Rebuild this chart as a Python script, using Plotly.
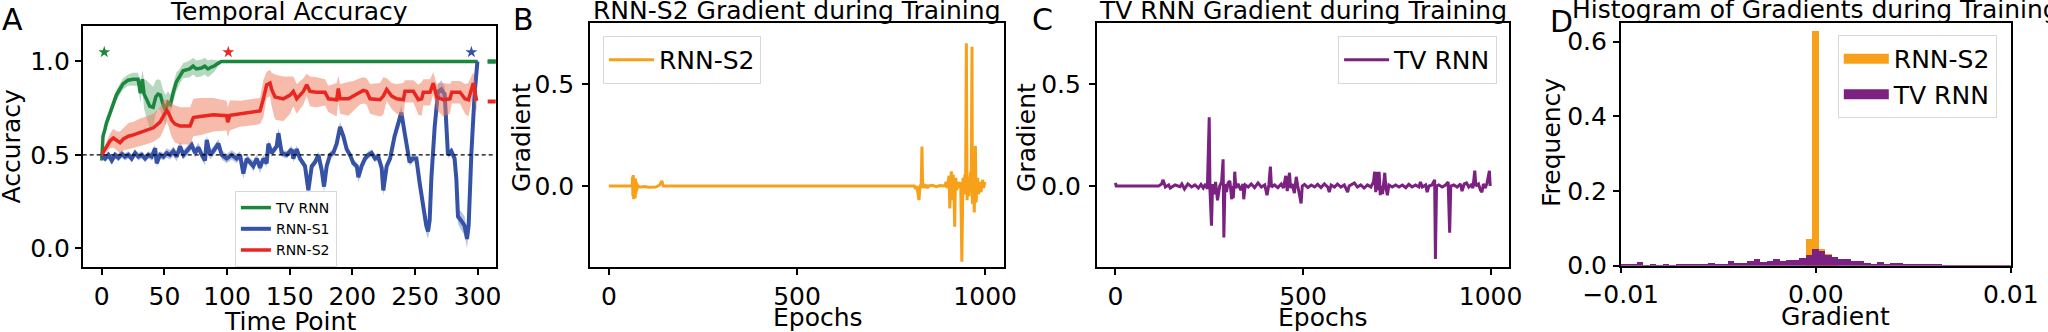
import numpy as np
import plotly.graph_objects as go

FONT = "DejaVu Sans"

# ---------------- Panel A : temporal accuracy ----------------
t_tv = [0, 1, 2.7, 3.7, 6.4, 9, 11.7, 14.3, 17, 21,
        25, 29, 30.8, 32.4, 33.8, 35.6, 38.3, 41, 43.1, 44.9,
        46.8, 48.9, 50.8, 52.9, 54.8, 56.9, 59.5, 62.2, 64.9, 70.2,
        72.9, 75.5, 79.5, 82.2, 84.8, 87.5, 90.1, 92.8, 95.5, 100,
        110, 300]
acc_tv = [0.47, 0.6, 0.64, 0.67, 0.72, 0.77, 0.82, 0.85, 0.88, 0.9,
          0.905, 0.905, 0.83, 0.905, 0.825, 0.8, 0.76, 0.755, 0.81, 0.825,
          0.82, 0.77, 0.74, 0.78, 0.77, 0.83, 0.89, 0.92, 0.95, 0.96,
          0.975, 0.96, 0.965, 0.975, 0.96, 0.97, 0.977, 0.99, 1.0, 1.0,
          1.0, 1.0]
err_tv = [0.03, 0.03, 0.03, 0.03, 0.03, 0.03, 0.03, 0.03, 0.03, 0.03,
          0.035, 0.035, 0.05, 0.05, 0.08, 0.1, 0.12, 0.11, 0.09, 0.08,
          0.08, 0.08, 0.08, 0.06, 0.05, 0.05, 0.05, 0.04, 0.04, 0.045,
          0.045, 0.045, 0.045, 0.045, 0.045, 0.04, 0.03, 0.015, 0.005, 0.003,
          0.002, 0.002]

t_s1 = [0, 2.7, 5.3, 8, 10.6, 13.3, 16, 18.6, 21.3, 23.9,
        26.6, 29.3, 31.9, 34.6, 37.2, 39.9, 42.6, 43.9, 46.5, 49.2,
        51.9, 54.5, 57.2, 59.8, 62.5, 65.2, 67.8, 71.8, 74.5, 77.1,
        79.8, 82.4, 83.8, 86.4, 89.1, 93.1, 95.7, 99.7, 103.7, 107.7,
        110.4, 113, 115.7, 118.4, 121, 123.7, 126.3, 129, 131.6, 133,
        135.6, 139.6, 141, 143.6, 147.6, 151.6, 152.9, 155.6, 158.2, 162.2,
        164.9, 167.6, 170.2, 172.9, 175.5, 177.4, 179.5, 182.2, 184.8, 187.5,
        190.2, 192.8, 195.5, 198.1, 200.8, 203.5, 204.8, 207.4, 210.1, 212.8,
        215.4, 218.1, 220.7, 223.4, 224.7, 227.4, 230.1, 233.7, 237.7, 239.1,
        241.7, 244.4, 245.7, 248, 251.1, 253.7, 256.4, 259, 260.4, 261.7,
        263.1, 265.7, 268.4, 271, 273.7, 275, 276.3, 279, 281.6, 283,
        284.3, 287, 289.6, 291.5, 292.8, 295, 297.6, 299.8]
acc_s1 = [0.5, 0.48, 0.5, 0.47, 0.5, 0.485, 0.505, 0.49, 0.5, 0.48,
          0.51, 0.49, 0.5, 0.48, 0.5, 0.49, 0.535, 0.455, 0.5, 0.49,
          0.51, 0.5, 0.52, 0.49, 0.545, 0.5, 0.52, 0.553, 0.51, 0.54,
          0.5, 0.47, 0.58, 0.5, 0.52, 0.56, 0.5, 0.48, 0.5, 0.48,
          0.5, 0.4, 0.48, 0.46, 0.44, 0.48, 0.43, 0.48, 0.455, 0.56,
          0.51, 0.545, 0.616, 0.51, 0.5, 0.53, 0.48, 0.53, 0.48, 0.44,
          0.31, 0.44, 0.46, 0.5, 0.42, 0.33, 0.44, 0.5, 0.51, 0.56,
          0.65, 0.6, 0.53, 0.5, 0.455, 0.44, 0.38, 0.44, 0.48, 0.5,
          0.51, 0.48, 0.49, 0.43, 0.31, 0.44, 0.48, 0.6, 0.69, 0.727,
          0.62, 0.51, 0.46, 0.48, 0.48, 0.35, 0.23, 0.12, 0.09, 0.15,
          0.38, 0.65, 0.84, 0.85, 0.825, 0.65, 0.5, 0.52, 0.48, 0.37,
          0.17, 0.146, 0.12, 0.05, 0.12, 0.51, 0.83, 1.0]
err_s1 = [0.01, 0.02, 0.02, 0.02, 0.02, 0.02, 0.02, 0.02, 0.02, 0.02,
          0.02, 0.02, 0.02, 0.02, 0.02, 0.02, 0.02, 0.02, 0.02, 0.02,
          0.025, 0.025, 0.025, 0.025, 0.025, 0.025, 0.025, 0.025, 0.025, 0.025,
          0.025, 0.025, 0.025, 0.025, 0.025, 0.025, 0.025, 0.025, 0.025, 0.025,
          0.02, 0.03, 0.02, 0.02, 0.03, 0.02, 0.03, 0.02, 0.02, 0.02,
          0.02, 0.02, 0.03, 0.02, 0.02, 0.02, 0.02, 0.02, 0.02, 0.02,
          0.03, 0.02, 0.02, 0.02, 0.02, 0.03, 0.02, 0.02, 0.02, 0.02,
          0.03, 0.02, 0.02, 0.02, 0.02, 0.02, 0.03, 0.02, 0.02, 0.02,
          0.02, 0.02, 0.02, 0.02, 0.03, 0.02, 0.02, 0.03, 0.04, 0.04,
          0.04, 0.02, 0.02, 0.02, 0.02, 0.03, 0.04, 0.04, 0.04, 0.04,
          0.03, 0.03, 0.04, 0.05, 0.04, 0.03, 0.02, 0.02, 0.02, 0.03,
          0.04, 0.05, 0.05, 0.05, 0.04, 0.03, 0.03, 0.01]

t_s2 = [0, 4, 6.6, 9.3, 12, 14.6, 17.3, 21.3, 25.3, 30.6,
        35.9, 41.2, 46.5, 49.2, 51.9, 53.2, 55.9, 58.5, 62.5, 70.5,
        73.1, 78.5, 89.1, 99.7, 100.5, 102.4, 110.4, 121, 126.3, 129,
        131.6, 134.3, 135.6, 138.3, 144.9, 150.3, 152.9, 155.6, 160.9, 163.6,
        166.2, 171.5, 178.2, 180.9, 187.5, 188.8, 190.2, 196.8, 200.8, 206.1,
        208.8, 211.4, 214.1, 222.1, 224.7, 227.4, 231.4, 235.4, 240.7, 242,
        248.7, 252.7, 255.3, 256.6, 262, 264.6, 267.3, 272.6, 277.9, 279.3,
        285.9, 289.9, 292.6, 296.5, 299.2]
acc_s2 = [0.5, 0.545, 0.575, 0.59, 0.575, 0.565, 0.585, 0.6, 0.607, 0.62,
          0.632, 0.645, 0.675, 0.71, 0.738, 0.725, 0.685, 0.665, 0.655, 0.655,
          0.7, 0.705, 0.715, 0.71, 0.675, 0.712, 0.72, 0.728, 0.735, 0.8,
          0.875, 0.884, 0.85, 0.81, 0.8, 0.82, 0.84, 0.8, 0.84, 0.875,
          0.84, 0.835, 0.835, 0.8, 0.795, 0.855, 0.8, 0.8, 0.815, 0.84,
          0.845, 0.84, 0.8, 0.795, 0.815, 0.85, 0.815, 0.8, 0.795, 0.84,
          0.84, 0.795, 0.8, 0.835, 0.835, 0.884, 0.81, 0.795, 0.8, 0.835,
          0.835, 0.8, 0.795, 0.884, 0.79]
err_s2 = [0.01, 0.03, 0.04, 0.05, 0.05, 0.06, 0.06, 0.07, 0.07, 0.075,
          0.075, 0.075, 0.08, 0.08, 0.06, 0.07, 0.09, 0.1, 0.1, 0.1,
          0.1, 0.1, 0.09, 0.08, 0.08, 0.08, 0.07, 0.07, 0.07, 0.1,
          0.07, 0.07, 0.09, 0.12, 0.12, 0.1, 0.08, 0.08, 0.07, 0.06,
          0.08, 0.08, 0.07, 0.07, 0.09, 0.07, 0.08, 0.09, 0.08, 0.07,
          0.07, 0.07, 0.08, 0.09, 0.1, 0.06, 0.07, 0.08, 0.09, 0.06,
          0.06, 0.08, 0.09, 0.07, 0.07, 0.06, 0.07, 0.09, 0.08, 0.06,
          0.06, 0.08, 0.09, 0.06, 0.06]

# final-accuracy ticks at the right edge, significance stars, chance level
final_t = [308, 320]
final_tv = 1.0
final_s1 = 1.0
final_s2 = 0.786
star_t = [2, 101, 295]
star_acc = [1.05, 1.05, 1.05]
chance_level = 0.5
ticks_time = [0, 50, 100, 150, 200, 250, 300]
ticks_acc = [0.0, 0.5, 1.0]

# ---------------- Panel B : RNN-S2 gradient ----------------
ep_s2 = [0, 62, 63, 64, 65, 66, 67, 68, 69, 70,
         71, 72, 73, 74, 75, 76, 77, 78, 85, 95,
         105, 115, 125, 135, 139, 141, 143, 145, 150, 812,
         815, 818, 821, 824, 827, 830, 832, 834, 837, 840,
         843, 846, 850, 860, 870, 880, 893, 896, 899, 902,
         904, 906, 908, 910, 913, 915, 917, 919, 921, 922,
         924, 926, 929, 932, 935, 938, 940, 941, 943, 944,
         946, 948, 950, 951, 952, 954, 955, 957, 959, 961,
         963, 965, 966, 968, 969, 971, 972, 974, 975, 976,
         978, 980, 981, 983, 985, 987, 989, 991, 993, 994,
         996, 997, 999]
grad_s2 = [0, 0, 0.045, -0.05, 0.054, -0.065, 0.04, -0.055, 0.03, -0.06,
           0.035, -0.04, 0.02, -0.025, 0.01, -0.01, 0.005, -0.005, -0.005, -0.003,
           -0.006, -0.004, -0.005, 0.005, 0.02, 0.025, 0.01, 0.0, 0.0, 0.0,
           -0.015, 0.0, -0.03, -0.069, 0.0, 0.005, 0.193, -0.01, 0.01, -0.008,
           0.006, -0.01, 0.0, 0.003, -0.003, 0.002, 0.0, 0.02, -0.01, 0.03,
           0.05, -0.11, 0.03, 0.072, -0.07, 0.056, -0.02, -0.2, 0.03, 0.04,
           -0.02, 0.0, 0.02, -0.01, 0.02, -0.371, 0.03, 0.04, -0.03, -0.04,
           0.056, 0.02, 0.70, 0.05, -0.07, 0.03, 0.04, -0.05, 0.03, 0.07,
           0.02, 0.683, -0.087, 0.05, 0.09, -0.13, -0.05, 0.196, 0.02, -0.08,
           0.01, 0.04, -0.02, -0.04, 0.01, 0.02, -0.03, -0.01, 0.03, 0.02,
           -0.01, 0.0, 0.02]

# ---------------- Panel C : TV RNN gradient ----------------
ep_tv = [0, 2, 115, 123, 127, 133, 142, 146, 159, 172,
         177, 184, 193, 203, 212, 221, 228, 234, 240, 245,
         250, 252, 256, 259, 263, 267, 272, 278, 283, 287,
         289, 292, 296, 300, 305, 308, 310, 312, 314, 317,
         318, 321, 327, 334, 340, 342, 346, 354, 362, 371,
         380, 389, 398, 404, 409, 413, 416, 424, 433, 442,
         448, 454, 456, 458, 461, 464, 467, 471, 477, 482,
         486, 495, 498, 504, 513, 522, 531, 539, 548, 557,
         566, 570, 575, 584, 592, 601, 610, 619, 623, 637,
         645, 654, 663, 672, 681, 688, 691, 694, 697, 700,
         703, 706, 709, 712, 718, 721, 725, 729, 738, 747,
         756, 765, 774, 782, 791, 800, 809, 813, 818, 827,
         831, 836, 844, 851, 853, 856, 862, 871, 880, 887,
         891, 894, 902, 911, 920, 924, 930, 936, 942, 948,
         953, 958, 961, 968, 973, 977, 981, 986, 990, 997,
         999]
grad_tv = [0.015, 0.0, 0.0, 0.01, 0.03, -0.005, 0.005, -0.01, 0.005, -0.003,
           0.01, -0.015, 0.01, -0.005, 0.005, -0.01, 0.008, -0.01, 0.01, -0.015,
           0.337, -0.02, -0.195, 0.01, -0.04, 0.02, -0.07, 0.0, 0.02, 0.131,
           -0.252, 0.01, -0.03, 0.015, 0.025, -0.03, -0.065, 0.0, -0.06, 0.02,
           0.07, -0.01, 0.01, -0.02, 0.01, -0.065, 0.005, -0.005, 0.01, -0.008,
           0.015, -0.005, 0.005, -0.045, 0.005, 0.095, -0.005, 0.005, -0.008, 0.01,
           -0.01, 0.05, -0.005, -0.025, 0.03, 0.065, -0.01, 0.01, -0.035, 0.045,
           0.0, -0.085, 0.0, 0.008, -0.008, 0.005, -0.005, 0.008, -0.008, 0.01,
           -0.005, -0.03, 0.005, -0.005, 0.01, -0.005, 0.005, -0.03, 0.0, 0.015,
           -0.005, 0.005, -0.01, 0.005, -0.005, 0.02, 0.07, -0.03, 0.07, -0.02,
           0.07, -0.045, 0.0, -0.04, 0.065, -0.01, -0.045, 0.005, -0.005, 0.005,
           -0.005, 0.005, -0.008, 0.008, -0.005, 0.005, -0.005, 0.02, -0.005, 0.005,
           -0.03, 0.0, 0.005, 0.03, -0.358, 0.0, 0.005, -0.005, 0.005, 0.02,
           -0.229, 0.0, 0.005, -0.005, 0.01, -0.025, 0.01, 0.015, -0.005, 0.005,
           -0.01, 0.075, 0.0, 0.01, -0.02, -0.03, 0.01, -0.01, 0.01, 0.075,
           0.0]
ticks_epoch = [0, 500, 1000]
ticks_grad = [0.0, 0.5]

# ---------------- Panel D : gradient histogram ----------------
hist_left = -0.01018
hist_width = 0.000333
freq_s2 = [0, 0, 0, 0, 0, 0, 0, 0, 0, 0,
           0, 0, 0, 0, 0, 0, 0, 0, 0, 0,
           0, 0, 0, 0, 0, 0, 0, 0, 0, 0.0715,
           0.63, 0.045, 0.032, 0.01, 0, 0, 0, 0, 0, 0,
           0, 0, 0, 0, 0, 0, 0, 0, 0, 0,
           0, 0, 0, 0, 0, 0, 0, 0, 0, 0, 0]
freq_tv = [0.0045, 0.004, 0.003, 0.01, 0.002, 0.003, 0.002, 0.003, 0.002, 0.003,
           0.003, 0.005, 0.004, 0.005, 0.009, 0.006, 0.006, 0.014, 0.007, 0.009,
           0.013, 0.018, 0.011, 0.013, 0.02, 0.013, 0.016, 0.017, 0.022, 0.029,
           0.045, 0.039, 0.03, 0.023, 0.02, 0.02, 0.013, 0.013, 0.009, 0.006,
           0.011, 0.005, 0.008, 0.008, 0.006, 0.003, 0.003, 0.004, 0.004, 0.004,
           0.002, 0.001, 0.001, 0.001, 0.0005, 0.0005, 0.0005, 0.0005, 0.0003, 0.0003, 0.0003]
ticks_hist_x = [-0.01, 0.0, 0.01]
ticks_freq = [0.0, 0.2, 0.4, 0.6]

# ---------------- colours ----------------
C_TV = "#1b873c"
C_S1 = "#3552a6"
C_S2 = "#e9261f"
B_TV = "rgba(27,135,60,0.32)"
B_S1 = "rgba(53,82,166,0.35)"
B_S2 = "rgba(240,120,90,0.5)"
C_OR = "#f7a11a"
C_PU = "#7b2181"

TXT = 25     # titles / axis labels
TCK = 25     # tick labels

fig = go.Figure()


def band(t, m, e, color, name):
    m = np.array(m)
    e = np.array(e)
    fig.add_trace(go.Scatter(x=t, y=m - e, mode="lines", line=dict(width=0),
                             hoverinfo="skip", showlegend=False, xaxis="x", yaxis="y"))
    fig.add_trace(go.Scatter(x=t, y=m + e, mode="lines", line=dict(width=0),
                             fill="tonexty", fillcolor=color, hoverinfo="skip",
                             showlegend=False, xaxis="x", yaxis="y", name=name + " band"))


band(t_tv, acc_tv, err_tv, B_TV, "TV RNN")
fig.add_trace(go.Scatter(x=t_tv, y=acc_tv, mode="lines", name="TV RNN",
                         line=dict(color=C_TV, width=3.5), xaxis="x", yaxis="y", legend="legend"))
band(t_s1, acc_s1, err_s1, B_S1, "RNN-S1")
fig.add_trace(go.Scatter(x=t_s1, y=acc_s1, mode="lines", name="RNN-S1",
                         line=dict(color=C_S1, width=4), xaxis="x", yaxis="y", legend="legend"))
band(t_s2, acc_s2, err_s2, B_S2, "RNN-S2")
fig.add_trace(go.Scatter(x=t_s2, y=acc_s2, mode="lines", name="RNN-S2",
                         line=dict(color=C_S2, width=3.5), xaxis="x", yaxis="y", legend="legend"))

for val, col in [(final_tv, C_TV), (final_s1, C_TV), (final_s2, C_S2)]:
    fig.add_trace(go.Scatter(x=final_t, y=[val, val], mode="lines", showlegend=False,
                             line=dict(color=col, width=4), xaxis="x", yaxis="y"))

fig.add_trace(go.Scatter(x=star_t, y=star_acc, mode="markers", showlegend=False,
                         marker=dict(symbol="star", size=9, color=[C_TV, C_S2, C_S1]),
                         xaxis="x", yaxis="y"))

# Panel B
fig.add_trace(go.Scatter(x=ep_s2, y=grad_s2, mode="lines", name="RNN-S2",
                         line=dict(color=C_OR, width=3), xaxis="x2", yaxis="y2", legend="legend2"))
# Panel C
fig.add_trace(go.Scatter(x=ep_tv, y=grad_tv, mode="lines", name="TV RNN",
                         line=dict(color=C_PU, width=3), xaxis="x3", yaxis="y3", legend="legend3"))

# Panel D
centers = hist_left + (np.arange(len(freq_tv)) + 0.5) * hist_width
fig.add_trace(go.Bar(x=centers, y=freq_s2, width=hist_width, marker=dict(color=C_OR, line=dict(width=0)),
                     showlegend=False, xaxis="x4", yaxis="y4", name="RNN-S2"))
fig.add_trace(go.Bar(x=centers, y=freq_tv, width=hist_width, marker=dict(color=C_PU, line=dict(width=0)),
                     showlegend=False, xaxis="x4", yaxis="y4", name="TV RNN"))
fig.add_trace(go.Scatter(x=[None], y=[None], mode="lines", name="RNN-S2",
                         line=dict(color=C_OR, width=16), xaxis="x4", yaxis="y4", legend="legend4"))
fig.add_trace(go.Scatter(x=[None], y=[None], mode="lines", name="TV RNN",
                         line=dict(color=C_PU, width=16), xaxis="x4", yaxis="y4", legend="legend4"))


def ax(**kw):
    d = dict(showline=True, mirror=True, linecolor="black", linewidth=1.6,
             ticks="outside", ticklen=6, tickwidth=1.5, tickcolor="black",
             showgrid=False, zeroline=False, automargin=False,
             tickfont=dict(family=FONT, size=TCK, color="black"))
    d.update(kw)
    return d


Y_AB = [0.19488, 0.92169]
Y_BC = [0.19488, 0.92982]
Y_D = [0.19970, 0.93163]

leg_common = dict(bgcolor="rgba(255,255,255,0.85)", bordercolor="#d8d8d8", borderwidth=1,
                  traceorder="normal")

fig.update_layout(
    width=2048, height=332,
    margin=dict(l=0, r=0, t=0, b=0),
    paper_bgcolor="white", plot_bgcolor="white",
    font=dict(family=FONT, color="black"),
    barmode="overlay", bargap=0,
    xaxis=ax(domain=[0.04038, 0.24204], range=[-15.2, 314.4], tickvals=ticks_time, anchor="y"),
    yaxis=ax(domain=Y_AB, range=[-0.102, 1.19], tickvals=ticks_acc, tickformat=".1f", anchor="x"),
    xaxis2=ax(domain=[0.28809, 0.49023], range=[-50, 1050], tickvals=ticks_epoch, anchor="y2"),
    yaxis2=ax(domain=Y_BC, range=[-0.3985, 0.7975], tickvals=ticks_grad, tickformat=".1f", anchor="x2",
              ticklabelstandoff=3),
    xaxis3=ax(domain=[0.53550, 0.73696], range=[-50, 1050], tickvals=ticks_epoch, anchor="y3"),
    yaxis3=ax(domain=Y_BC, range=[-0.3985, 0.7975], tickvals=ticks_grad, tickformat=".1f", anchor="x3",
              ticklabelstandoff=3),
    xaxis4=ax(domain=[0.79136, 0.98179], range=[-0.01, 0.01], tickvals=ticks_hist_x, tickformat=".2f",
              anchor="y4"),
    yaxis4=ax(domain=Y_D, range=[0, 0.651], tickvals=ticks_freq, tickformat=".1f", anchor="x4",
              ticklabelstandoff=1),
    legend=dict(x=0.1147, y=0.4247, xanchor="left", yanchor="top",
                font=dict(family=FONT, size=14, color="black"), **leg_common),
    legend2=dict(x=0.2944, y=0.8916, xanchor="left", yanchor="top", itemwidth=45,
                 font=dict(family=FONT, size=TCK, color="black"), **leg_common),
    legend3=dict(x=0.7310, y=0.8916, xanchor="right", yanchor="top", itemwidth=45,
                 font=dict(family=FONT, size=TCK, color="black"), **leg_common),
    legend4=dict(x=0.975, y=0.8946, xanchor="right", yanchor="top", itemwidth=45,
                 font=dict(family=FONT, size=TCK, color="black"), **leg_common),
    showlegend=True,
)

fig.add_shape(type="line", xref="x domain", yref="y", x0=0, x1=1, y0=chance_level, y1=chance_level,
              line=dict(color="black", width=1.3, dash="4px,3px"))

H = 332.0
W = 2048.0


def note(text, xpx, ypx, size=TXT, angle=0, xanchor="center", yanchor="middle"):
    fig.add_annotation(text=text, x=xpx / W, y=1 - ypx / H, xref="paper", yref="paper",
                       showarrow=False, textangle=angle, xanchor=xanchor, yanchor=yanchor,
                       borderpad=0, font=dict(family=FONT, size=size, color="black"))


# subplot titles
note("Temporal Accuracy", 289.2, 27, yanchor="bottom")
note("RNN-S2 Gradient during Training", 797, 26, yanchor="bottom")
note("TV RNN Gradient during Training", 1303, 26, yanchor="bottom")
note("Histogram of Gradients during Training", 1815.7, 25, yanchor="bottom")
# panel letters
note("A", 12, 19, size=30)
note("B", 523, 20, size=30)
note("C", 1042.5, 19, size=30)
note("D", 1561, 21, size=30)
# axis titles
note("Time Point", 290, 321)
note("Epochs", 817.5, 317)
note("Epochs", 1323.3, 317)
note("Gradient", 1835, 316)
note("Accuracy", 11.7, 146.7, angle=-90)
note("Gradient", 521.5, 137.5, angle=-90)
note("Gradient", 1026.5, 137.5, angle=-90)
note("Frequency", 1551.5, 142.5, angle=-90)

# the page is photographed at its top-left corner, so drop the browser's default body margin
fig.write_html("out.html", config={"displayModeBar": False},
               post_script="document.body.style.margin='0px';")
